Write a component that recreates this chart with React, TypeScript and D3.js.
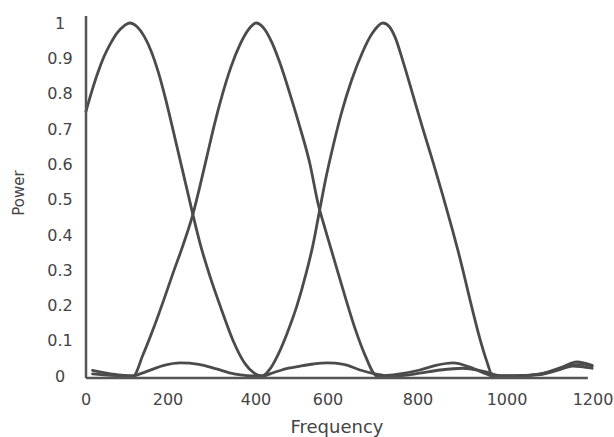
import React from "react";
import * as d3 from "d3";

// ---- data ----
const xTickValues = [0, 200, 400, 600, 800, 1000, 1200];
const yTickValues = [0, 0.1, 0.2, 0.3, 0.4, 0.5, 0.6, 0.7, 0.8, 0.9, 1];
const yTickLabels = ["0", "0.1", "0.2", "0.3", "0.4", "0.5", "0.6", "0.7", "0.8", "0.9", "1"];

const freq1 = [0, 15, 29, 44, 59, 76, 93, 107, 124, 142, 159, 176, 193, 209, 225, 241, 257, 273, 296, 321, 348, 375, 396, 417, 450, 490, 522, 560, 597, 635, 671, 705, 740, 770, 804, 850, 901, 945, 991, 1030, 1077, 1115, 1153, 1198];
const power1 = [0.75, 0.81, 0.86, 0.905, 0.94, 0.972, 0.992, 1.0, 0.99, 0.962, 0.92, 0.862, 0.79, 0.71, 0.625, 0.54, 0.455, 0.375, 0.28, 0.19, 0.1, 0.035, 0.008, 0, 0.01, 0.022, 0.028, 0.034, 0.037, 0.033, 0.017, 0.006, 0, 0.002, 0.008, 0.017, 0.022, 0.014, 0, 0.001, 0.004, 0.015, 0.028, 0.022];

const freq2 = [16, 40, 80, 115, 139, 163, 188, 211, 234, 257, 273, 289, 305, 323, 343, 364, 382, 400, 422, 444, 467, 494, 522, 550, 572, 594, 616, 638, 660, 682, 709, 760, 804, 840, 879, 917, 955, 968, 1000, 1040, 1077, 1120, 1163, 1198];
const power2 = [0.016, 0.01, 0.003, 0, 0.06, 0.13, 0.21, 0.29, 0.37, 0.46, 0.54, 0.625, 0.71, 0.795, 0.875, 0.94, 0.98, 1.0, 0.985, 0.945, 0.885, 0.8, 0.705, 0.6, 0.49, 0.41, 0.32, 0.225, 0.135, 0.06, 0, 0.006, 0.017, 0.03, 0.037, 0.025, 0.005, 0, 0, 0.001, 0.005, 0.02, 0.04, 0.03];

const freq3 = [16, 60, 115, 132, 160, 190, 228, 270, 310, 350, 380, 400, 417, 439, 461, 486, 514, 539, 558, 575, 594, 613, 631, 653, 676, 698, 722, 736, 749, 767, 789, 811, 834, 856, 876, 897, 917, 937, 955, 968, 1030, 1077, 1146, 1181, 1198];
const power3 = [0.006, 0.002, 0, 0.006, 0.018, 0.03, 0.037, 0.033, 0.02, 0.006, 0.001, 0, 0, 0.02, 0.06, 0.12, 0.2, 0.29, 0.37, 0.46, 0.56, 0.66, 0.75, 0.84, 0.915, 0.97, 1.0, 0.99, 0.96, 0.89, 0.795, 0.7, 0.605, 0.51, 0.42, 0.32, 0.215, 0.115, 0.04, 0, 0.001, 0.006, 0.03, 0.033, 0.028];

const series = [
  { name: "band1", freq: freq1, power: power1 },
  { name: "band2", freq: freq2, power: power2 },
  { name: "band3", freq: freq3, power: power3 },
];

export default function App() {
  const W = 614;
  const H = 437;
  // the scanned reference has slightly uneven tick spacing; a polylinear scale follows it
  const x = d3.scaleLinear().domain(xTickValues).range([86, 168, 256, 328, 418, 507, 593]);
  const y = d3.scaleLinear().domain([0, 1]).range([376, 23]);

  const line = d3
    .line<[number, number]>()
    .x((d) => x(d[0]))
    .y((d) => y(d[1]))
    .curve(d3.curveMonotoneX);

  const axisColor = "#555";
  const textColor = "#444";
  const font = "'DejaVu Sans', sans-serif";
  const axisY = y(-0.006);

  return (
    <svg
      width={W}
      height={H}
      viewBox={`0 0 ${W} ${H}`}
      style={{ position: "absolute", left: 0, top: 0, background: "#fff" }}
    >
      <rect x={0} y={0} width={W} height={H} fill="#fff" />
      {series.map((s) => (
        <path
          key={s.name}
          d={line(s.freq.map((f, i) => [f, s.power[i]] as [number, number])) || ""}
          fill="none"
          stroke="#4b4b4b"
          strokeWidth={2.8}
          strokeLinejoin="round"
          strokeLinecap="round"
        />
      ))}
      {/* axes */}
      <line x1={x(0)} x2={x(0)} y1={y(1.02)} y2={axisY} stroke={axisColor} strokeWidth={2.5} />
      <line x1={x(0)} x2={x(1188)} y1={axisY} y2={axisY} stroke={axisColor} strokeWidth={2.5} />
      {yTickValues.map((v, i) => (
        <text
          key={"y" + i}
          x={60}
          y={y(v)}
          dy="0.36em"
          textAnchor="middle"
          fontFamily={font}
          fontSize={16}
          fill={textColor}
        >
          {yTickLabels[i]}
        </text>
      ))}
      {xTickValues.map((v, i) => (
        <text
          key={"x" + i}
          x={x(v)}
          y={405}
          textAnchor="middle"
          fontFamily={font}
          fontSize={16}
          fill={textColor}
        >
          {String(v)}
        </text>
      ))}
      <text x={337} y={433} textAnchor="middle" fontFamily={font} fontSize={18} fill={textColor}>
        Frequency
      </text>
      <text
        transform={`translate(24, 193) rotate(-90)`}
        textAnchor="middle"
        fontFamily={font}
        fontSize={15}
        fill={textColor}
      >
        Power
      </text>
    </svg>
  );
}
